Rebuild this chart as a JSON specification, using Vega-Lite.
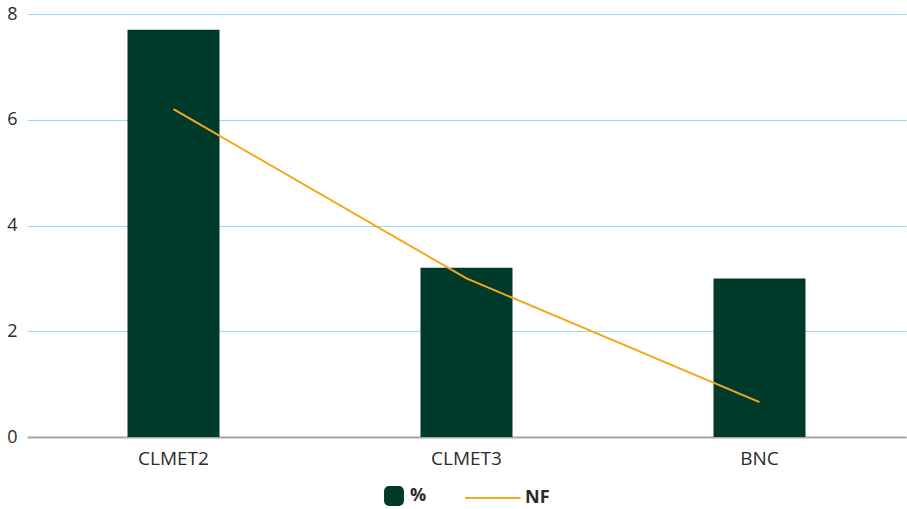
{
  "$schema": "https://vega.github.io/schema/vega-lite/v6.json",
  "width": 879,
  "height": 423,
  "autosize": {"type": "none"},
  "padding": {"left": 27, "top": 14, "right": 1, "bottom": 72},
  "background": "white",
  "config": {
    "font": "Open Sans",
    "view": {"stroke": null},
    "legend": {
      "layout": {"bottom": {"anchor": "middle"}}
    }
  },
  "data": {
    "values": [
      {"corpus": "CLMET2", "pct": 7.7, "nf": 6.2},
      {"corpus": "CLMET3", "pct": 3.2, "nf": 3.0},
      {"corpus": "BNC", "pct": 3.0, "nf": 0.66}
    ]
  },
  "encoding": {
    "x": {
      "field": "corpus",
      "type": "nominal",
      "sort": null,
      "scale": {"paddingInner": 0, "paddingOuter": 0},
      "axis": {
        "title": null,
        "labelAngle": 0,
        "labelFontSize": 19,
        "labelColor": "#2b2b2b",
        "labelPadding": 12,
        "ticks": false,
        "domainColor": "#a6a6a6",
        "domainWidth": 2,
        "grid": false
      }
    }
  },
  "layer": [
    {
      "mark": {"type": "bar", "width": 92},
      "encoding": {
        "y": {
          "field": "pct",
          "type": "quantitative",
          "scale": {"domain": [0, 8], "nice": false},
          "axis": {
            "title": null,
            "values": [0, 2, 4, 6, 8],
            "labelFontSize": 18,
            "labelColor": "#2b2b2b",
            "labelPadding": 10,
            "ticks": false,
            "domain": false,
            "grid": true,
            "gridColor": "#93d9ef",
            "gridWidth": 1.2
          }
        },
        "color": {
          "datum": "%",
          "type": "nominal",
          "scale": {"domain": ["%", "NF"], "range": ["#003a2b", "#f5a81c"]},
          "legend": {
            "title": null,
            "orient": "bottom",
            "direction": "horizontal",
            "offset": 18,
            "columnPadding": 34,
            "symbolSize": 320,
            "labelFontSize": 18,
            "labelFontWeight": "bold",
            "labelColor": "#2b2b2b",
            "labelOffset": 6,
            "encode": {
              "symbols": {
                "update": {
                  "shape": {"signal": "datum.value === 'NF' ? 'M-4.9,0H1.3' : 'M-0.55,-1H0.55A0.45,0.45,0,0,1,1,-0.55V0.55A0.45,0.45,0,0,1,0.55,1H-0.55A0.45,0.45,0,0,1,-1,0.55V-0.55A0.45,0.45,0,0,1,-0.55,-1Z'"},
                  "fill": {"signal": "datum.value === 'NF' ? 'transparent' : '#003a2b'"},
                  "stroke": {"signal": "datum.value === 'NF' ? '#f5a81c' : 'transparent'"},
                  "strokeWidth": {"value": 2}
                }
              }
            }
          }
        }
      }
    },
    {
      "mark": {"type": "line", "strokeWidth": 2},
      "encoding": {
        "y": {"field": "nf", "type": "quantitative"},
        "color": {"datum": "NF", "type": "nominal"}
      }
    }
  ]
}
